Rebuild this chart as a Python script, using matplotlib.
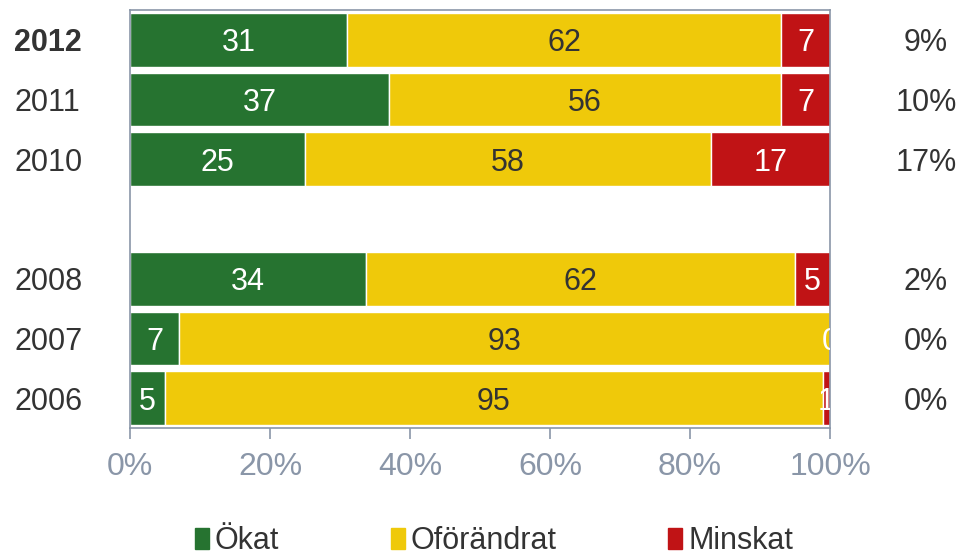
import numpy as np
import matplotlib.pyplot as plt
from matplotlib.patches import Patch

plt.rcParams['font.family'] = ['Liberation Sans', 'DejaVu Sans']

# data
years = ['2012', '2011', '2010', '', '2008', '2007', '2006']
okat = [31, 37, 25, 0, 34, 7, 5]
oforandrat = [62, 56, 58, 0, 62, 93, 95]
minskat = [7, 7, 17, 0, 5, 0, 1]
netto = ['9%', '10%', '17%', '', '2%', '0%', '0%']

gron = '#267330'
gul = '#EFC90A'
rod = '#C01315'
axfarg = '#8A96A8'
textfarg = '#333333'
fs = 22

fig = plt.figure(figsize=(9.78, 5.55), dpi=100)
ax = fig.add_axes([130/978, 1-428/555, 700/978, 418/555])

y = np.arange(len(years))
a = np.array(okat, float)
b = np.array(oforandrat, float)
c = np.array(minskat, float)
tot = a + b + c
tot[tot == 0] = 1
a_p, b_p, c_p = a/tot*100, b/tot*100, c/tot*100

h = 0.9
ax.barh(y, a_p, height=h, color=gron, edgecolor='white', linewidth=1)
ax.barh(y, b_p, left=a_p, height=h, color=gul, edgecolor='white', linewidth=1)
ax.barh(y, c_p, left=a_p+b_p, height=h, color=rod, edgecolor='white', linewidth=1)

va = 'center_baseline'
for i in range(len(years)):
    if years[i] == '':
        continue
    ax.text(a_p[i]/2, y[i], str(okat[i]), ha='center', va=va,
            color='white', fontsize=fs, clip_on=True)
    ax.text(a_p[i] + b_p[i]/2, y[i], str(oforandrat[i]), ha='center', va=va,
            color=textfarg, fontsize=fs, clip_on=True)
    ax.text(a_p[i] + b_p[i] + c_p[i]/2, y[i], str(minskat[i]), ha='center', va=va,
            color='white', fontsize=fs, clip_on=True)
    ax.text(113.7, y[i], netto[i], ha='center', va=va,
            color=textfarg, fontsize=fs, clip_on=False)
    # årtal till vänster
    ax.text(-16.5, y[i], years[i], ha='left', va=va, color=textfarg,
            fontsize=fs, fontweight='bold' if years[i] == '2012' else 'normal',
            clip_on=False)

ax.set_xlim(0, 100)
ax.set_ylim(len(years)-0.5, -0.5)
ax.set_xticks([0, 20, 40, 60, 80, 100])
ax.set_xticklabels(['0%', '20%', '40%', '60%', '80%', '100%'])
ax.tick_params(axis='x', colors=axfarg, labelsize=fs + 1, length=8, width=1.2, pad=9)
ax.set_yticks([])
for sp in ax.spines.values():
    sp.set_color(axfarg)
    sp.set_linewidth(1.2)

handles = [Patch(color=gron, label='Ökat'),
           Patch(color=gul, label='Oförändrat'),
           Patch(color=rod, label='Minskat')]
fig.legend(handles=handles, loc='center', bbox_to_anchor=(494/978, 1-541/555),
           ncol=3, frameon=False, fontsize=fs, handlelength=0.45, handleheight=0.7,
           handletextpad=0.2, columnspacing=3.65, labelcolor=textfarg)

fig.savefig('out.png', dpi=100)
